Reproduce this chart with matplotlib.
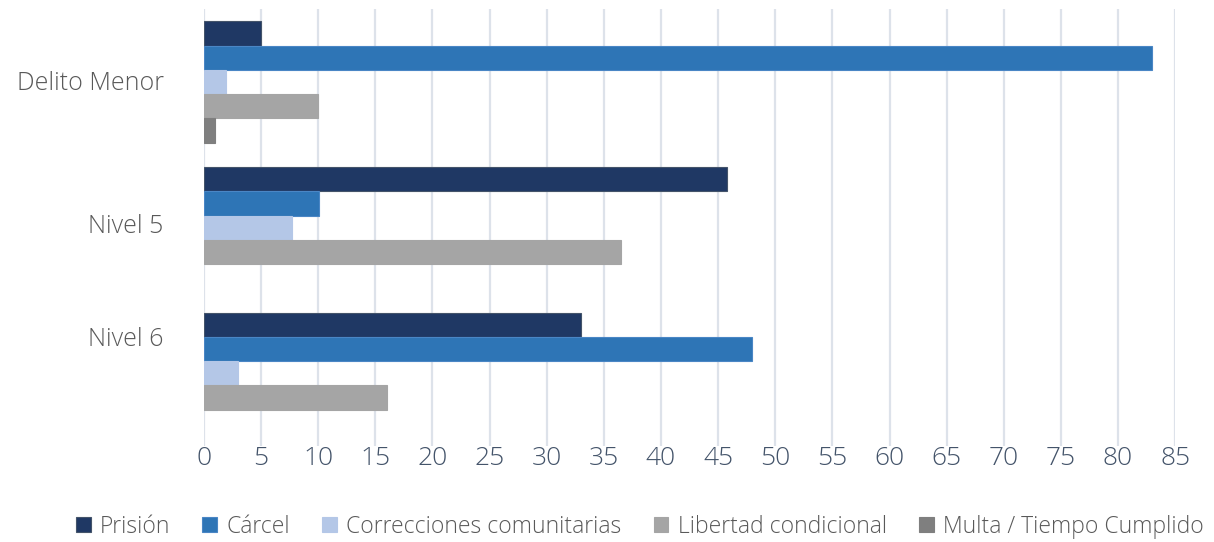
import matplotlib.pyplot as plt
import numpy as np

# Data
categories = ["Delito Menor", "Nivel 5", "Nivel 6"]
series_names = ["Prisión", "Cárcel", "Correcciones comunitarias",
                "Libertad condicional", "Multa / Tiempo Cumplido"]
prision = [5, 45.8, 33]
carcel = [83, 10.1, 48]
correcciones = [1.9, 7.7, 3]
libertad = [10, 36.5, 16]
multa = [1, 0, 0]
xticks = list(range(0, 90, 5))

# where the category labels sit relative to each group centre (as in the original)
label_shift = [-0.01, -0.03, -0.25]

colors = ["#1F3864", "#2E75B6", "#B4C7E7", "#A5A5A5", "#7F7F7F"]
edges = ["#44546A", "#4A86C5", "#B4C7E7", "#A5A5A5", "#7F7F7F"]

plt.rcParams['font.family'] = ['Open Sans', 'DejaVu Sans']
plt.rcParams['font.weight'] = 'light'

fig = plt.figure(figsize=(12.14, 5.42), dpi=100)
ax = fig.add_axes([0.168, 0.177, 0.8, 0.806])

values = [prision, carcel, correcciones, libertad, multa]
n = len(values)
h = 1.0 / (n + 1)
y = np.arange(len(categories))
for j, vals in enumerate(values):
    lw = [0.8 if v > 0 else 0 for v in vals]
    ax.barh(y + (j - (n - 1) / 2) * h, vals, height=h, color=colors[j],
            edgecolor=edges[j], linewidth=lw, label=series_names[j], zorder=3)

ax.set_xlim(0, 85)
ax.set_ylim(2.5, -0.5)
ax.set_xticks(xticks)
ax.set_xticklabels([str(t) for t in xticks], fontsize=19, color="#44546A")
ax.set_yticks(y + np.array(label_shift))
ax.set_yticklabels(categories, fontsize=18, color="#595959")
ax.tick_params(axis="x", length=0, pad=0)
ax.tick_params(axis="y", length=0, pad=29)

ax.grid(axis="x", color="#DDE2EA", linewidth=1.6, zorder=0)
for s in ax.spines.values():
    s.set_visible(False)

fig.legend(loc="center", bbox_to_anchor=(0.527, 0.028), ncol=5, frameon=False,
           fontsize=16.5, labelcolor="#595959", handlelength=0.65, handleheight=0.65,
           handletextpad=0.4, columnspacing=1.4)

fig.savefig("out.png", dpi=100)
plt.close(fig)
